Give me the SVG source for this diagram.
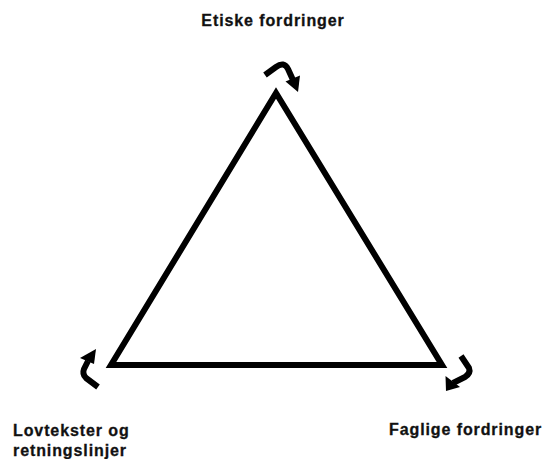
<svg xmlns="http://www.w3.org/2000/svg" width="546" height="459" viewBox="0 0 546 459">
<style>
.lbl{font-family:"Liberation Sans",Arial,sans-serif;font-weight:bold;font-size:16px;letter-spacing:0.9px;fill:#111;stroke:#111;stroke-width:0.3}
.shaft{fill:none;stroke:#000;stroke-width:6;stroke-linejoin:round}
.head{fill:#000}
</style>
<rect width="546" height="459" fill="#fff"/>
<g id="triangle">
<polygon points="276,93 111,365 442,365" fill="none" stroke="#000" stroke-width="6" stroke-linejoin="miter"/>
</g>
<g id="connectors">
<path class="shaft" d="M265,75 L276,67 Q284,61 288,69 L293,80"/>
<polygon class="head" points="298,92 300,75.5 285.5,81.5"/>
<path class="shaft" d="M98,387 L86,378 Q82,374 84,369 L88,361"/>
<polygon class="head" points="96,349 80,358 94,364"/>
<path class="shaft" d="M461,356 L469,368 Q471,373 465,377 L453,383"/>
<polygon class="head" points="446,391 445.5,376 460,387"/>
</g>
<g id="node-etiske"><text class="lbl" x="273" y="26" text-anchor="middle">Etiske fordringer</text></g>
<g id="node-lovtekster"><text class="lbl" x="13" y="436">Lovtekster og</text><text class="lbl" x="13" y="456">retningslinjer</text></g>
<g id="node-faglige"><text class="lbl" x="389" y="435">Faglige fordringer</text></g>
</svg>
